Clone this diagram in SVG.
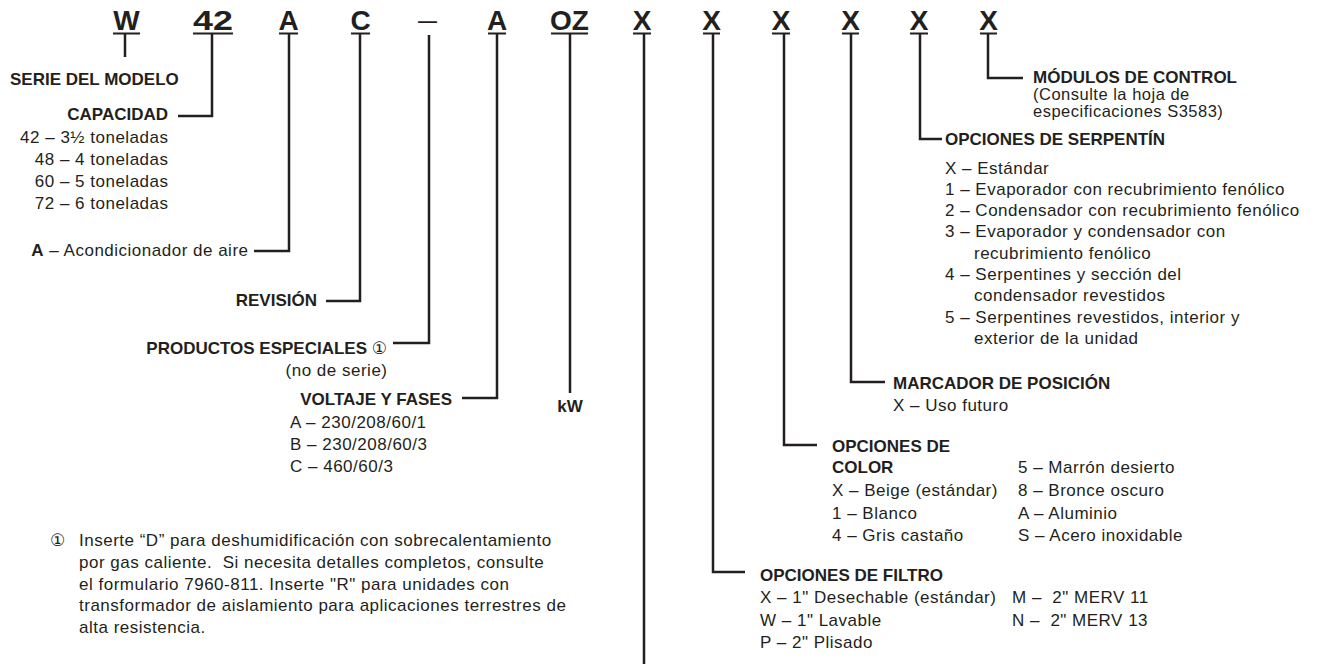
<svg xmlns="http://www.w3.org/2000/svg" width="1319" height="665" viewBox="0 0 1319 665">
<style>
text{font-family:"Liberation Sans",Arial,"DejaVu Sans",sans-serif;fill:#231f20}
.t{font-size:17px;letter-spacing:0.5px}
.b{font-size:17px;font-weight:bold}
.big{font-size:28px;font-weight:bold;text-anchor:middle}
.e{text-anchor:end}
.m{text-anchor:middle}
.ln{stroke:#231f20;stroke-width:2.5;fill:none;stroke-linecap:butt;stroke-linejoin:miter}
.ul{stroke:#231f20;stroke-width:2;fill:none}
</style>
<rect width="1319" height="665" fill="#ffffff"/>
<g id="code">
<text class="big" x="126.5" y="30">W</text>
<text class="big" transform="translate(213 30) scale(1.28 1)">42</text>
<text class="big" x="288.5" y="30">A</text>
<text class="big" x="360.5" y="30">C</text>
<text x="418" y="29" style="font-size:28px" textLength="19" lengthAdjust="spacingAndGlyphs">–</text>
<text class="big" x="497" y="30">A</text>
<text class="big" x="569.5" y="30">OZ</text>
<text class="big" x="642" y="30">X</text>
<text class="big" x="711.5" y="30">X</text>
<text class="big" x="781" y="30">X</text>
<text class="big" x="850.5" y="30">X</text>
<text class="big" x="919" y="30">X</text>
<text class="big" x="988.5" y="30">X</text>
<path class="ul" d="M113 33.5H140M193 33.5H233M279 33.5H298M351 33.5H370M488 33.5H506M551 33.5H588M633 33.5H651M703 33.5H720M772 33.5H790M842 33.5H859M910 33.5H928M980 33.5H997"/>
</g>
<g id="connectors">
<path class="ln" d="M125 34V57"/>
<path class="ln" d="M212 34V116H178"/>
<path class="ln" d="M289 34V251H254"/>
<path class="ln" d="M360 34V301H326"/>
<path class="ln" d="M429 35V343H393"/>
<path class="ln" d="M497 34V398H462"/>
<path class="ln" d="M570 34V393"/>
<path class="ln" d="M644 34V664"/>
<path class="ln" d="M713 34V572H745"/>
<path class="ln" d="M784 34V445H817"/>
<path class="ln" d="M851 34V382H885"/>
<path class="ln" d="M920 34V139H942"/>
<path class="ln" d="M988 34V78H1023"/>
</g>
<g id="serie">
<text class="b" x="10" y="85">SERIE DEL MODELO</text>
</g>
<g id="capacidad">
<text class="b e" x="168" y="120">CAPACIDAD</text>
<text class="t e" x="168.5" y="143">42 – 3½ toneladas</text>
<text class="t e" x="168.5" y="165">48 – 4 toneladas</text>
<text class="t e" x="168.5" y="187">60 – 5 toneladas</text>
<text class="t e" x="168.5" y="209">72 – 6 toneladas</text>
</g>
<g id="tipo">
<text class="t e" x="248.5" y="256"><tspan font-weight="bold">A</tspan> – Acondicionador de aire</text>
</g>
<g id="revision">
<text class="b e" x="317" y="306">REVISIÓN</text>
</g>
<g id="especiales">
<text class="b e" x="387" y="354">PRODUCTOS ESPECIALES <tspan font-weight="normal">①</tspan></text>
<text class="t e" x="387.5" y="376">(no de serie)</text>
</g>
<g id="voltaje">
<text class="b e" x="452" y="405">VOLTAJE Y FASES</text>
<text class="t" x="290" y="428">A – 230/208/60/1</text>
<text class="t" x="290" y="450">B – 230/208/60/3</text>
<text class="t" x="290" y="472">C – 460/60/3</text>
</g>
<g id="kw">
<text class="b m" x="570" y="412">kW</text>
</g>
<g id="nota">
<text class="t" x="50" y="546">①</text>
<text class="t" x="79" y="546">Inserte “D” para deshumidificación con sobrecalentamiento</text>
<text class="t" x="79" y="568" xml:space="preserve">por gas caliente.  Si necesita detalles completos, consulte</text>
<text class="t" x="79" y="590">el formulario 7960-811. Inserte "R" para unidades con</text>
<text class="t" x="79" y="611">transformador de aislamiento para aplicaciones terrestres de</text>
<text class="t" x="79" y="633">alta resistencia.</text>
</g>
<g id="filtro">
<text class="b" x="760" y="581">OPCIONES DE FILTRO</text>
<text class="t" x="760" y="603">X – 1" Desechable (estándar)</text>
<text class="t" x="760" y="626">W – 1" Lavable</text>
<text class="t" x="760" y="648">P – 2" Plisado</text>
<text class="t" x="1012" y="603" xml:space="preserve">M –  2" MERV 11</text>
<text class="t" x="1012" y="626" xml:space="preserve">N –  2" MERV 13</text>
</g>
<g id="color">
<text class="b" x="832" y="452">OPCIONES DE</text>
<text class="b" x="832" y="473">COLOR</text>
<text class="t" x="832" y="496">X – Beige (estándar)</text>
<text class="t" x="832" y="519">1 – Blanco</text>
<text class="t" x="832" y="541">4 – Gris castaño</text>
<text class="t" x="1018" y="473">5 – Marrón desierto</text>
<text class="t" x="1018" y="496">8 – Bronce oscuro</text>
<text class="t" x="1018" y="519">A – Aluminio</text>
<text class="t" x="1018" y="541">S – Acero inoxidable</text>
</g>
<g id="marcador">
<text class="b" x="893" y="389">MARCADOR DE POSICIÓN</text>
<text class="t" x="893" y="411">X – Uso futuro</text>
</g>
<g id="serpentin">
<text class="b" x="945" y="145">OPCIONES DE SERPENTÍN</text>
<text class="t" x="945" y="173.5">X – Estándar</text>
<text class="t" x="945" y="194.8">1 – Evaporador con recubrimiento fenólico</text>
<text class="t" x="945" y="216.1">2 – Condensador con recubrimiento fenólico</text>
<text class="t" x="945" y="237.4">3 – Evaporador y condensador con</text>
<text class="t" x="974" y="258.7">recubrimiento fenólico</text>
<text class="t" x="945" y="280">4 – Serpentines y sección del</text>
<text class="t" x="974" y="301.3">condensador revestidos</text>
<text class="t" x="945" y="322.6">5 – Serpentines revestidos, interior y</text>
<text class="t" x="974" y="343.9">exterior de la unidad</text>
</g>
<g id="modulos">
<text class="b" x="1033" y="83">MÓDULOS DE CONTROL</text>
<text class="t" x="1033" y="100" style="font-size:16.5px">(Consulte la hoja de</text>
<text class="t" x="1033" y="116.5" style="font-size:16.5px">especificaciones S3583)</text>
</g>
</svg>
